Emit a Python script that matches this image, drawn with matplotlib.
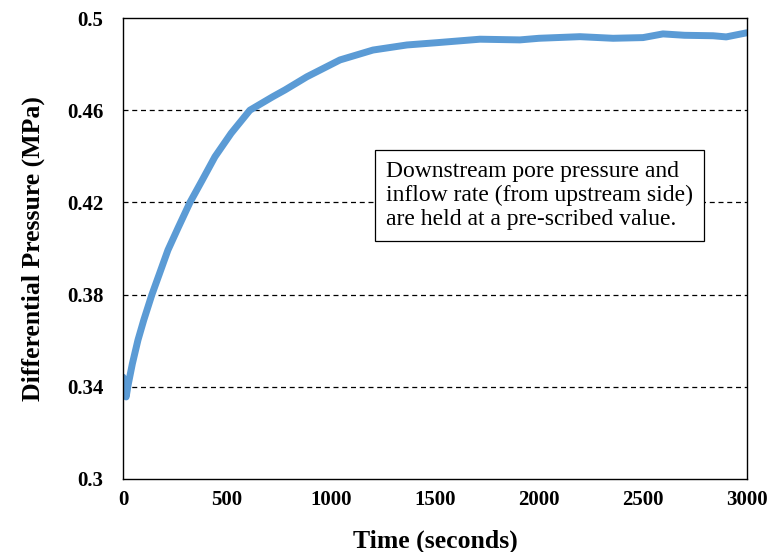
import matplotlib.pyplot as plt

time_s = [0, 5, 10, 15, 25, 45, 72, 100, 139, 175, 216, 265, 322, 380, 442,
          520, 610, 721, 779, 884, 1043, 1202, 1365, 1510, 1716, 1908, 2000,
          2197, 2356, 2500, 2596, 2700, 2837, 2900, 3000]
pressure = [0.3442, 0.343, 0.338, 0.3356, 0.341, 0.350, 0.3603, 0.369, 0.380,
            0.389, 0.3993, 0.409, 0.420, 0.4295, 0.4398, 0.450, 0.460, 0.4659,
            0.4688, 0.4745, 0.4818, 0.4861, 0.4883, 0.4893, 0.4908, 0.4905,
            0.4912, 0.4919, 0.4912, 0.4915, 0.4931, 0.4925, 0.4923, 0.4918,
            0.4936]
y_ticks = [0.3, 0.34, 0.38, 0.42, 0.46, 0.5]
y_labels = ["0.3", "0.34", "0.38", "0.42", "0.46", "0.5"]
x_ticks = [0, 500, 1000, 1500, 2000, 2500, 3000]

plt.rcParams["font.family"] = ["Liberation Serif", "DejaVu Serif"]

fig = plt.figure(figsize=(7.82, 5.52), dpi=100)
ax = fig.add_axes([123 / 782, 1 - 479 / 552, 624 / 782, 461 / 552])

ax.plot(time_s, pressure, color="#5B9BD5", lw=5, solid_capstyle="round",
        solid_joinstyle="round")

ax.set_xlim(0, 3000)
ax.set_ylim(0.3, 0.5)
ax.set_xticks(x_ticks)
ax.set_yticks(y_ticks)
ax.set_yticklabels(y_labels)
ax.tick_params(length=0, labelsize=15)
ax.tick_params(axis="y", pad=14)
ax.tick_params(axis="x", pad=8)
for lbl in ax.get_xticklabels() + ax.get_yticklabels():
    lbl.set_fontweight("bold")

# dashed guides at the inner ticks only
for v in y_ticks[1:-1]:
    ax.axhline(v, color="black", lw=0.9, ls=(0, (4, 3)), zorder=0)

for s in ax.spines.values():
    s.set_linewidth(1.0)

ax.set_xlabel("Time (seconds)", fontsize=18.5, fontweight="bold", labelpad=14)
ax.set_ylabel("Differential Pressure (MPa)", fontsize=18.5, fontweight="bold",
              labelpad=16)

ax.text(0.4215, 0.615,
        "Downstream pore pressure and\ninflow rate (from upstream side)\nare held at a pre-scribed value.",
        transform=ax.transAxes, fontsize=17, ha="left", va="center",
        linespacing=1.2,
        bbox=dict(boxstyle="square,pad=0.45", facecolor="white",
                  edgecolor="black", lw=0.9))

fig.savefig("out.png", dpi=100)
